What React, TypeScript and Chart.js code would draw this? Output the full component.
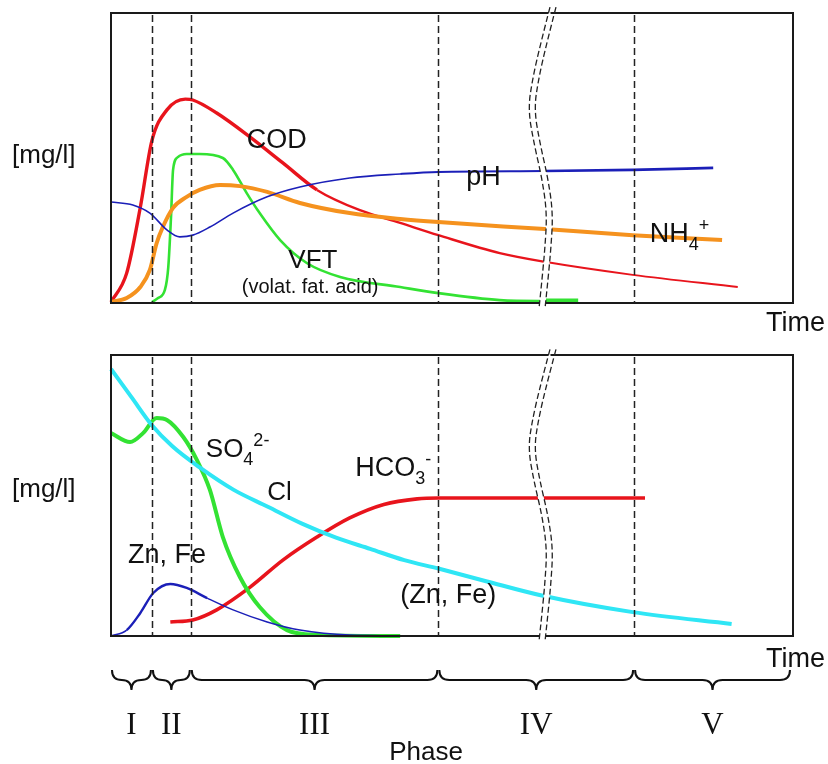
import React, { useEffect, useRef } from 'react';
import { Chart, registerables } from 'chart.js';
Chart.register(...registerables);

// ---- phases / time axis (abstract time units 0..100) ----
const phaseBounds = [0, 6, 11.7, 48, 76.7, 99.7];
const phaseLabels = ['I', 'II', 'III', 'IV', 'V'];
const dashedLines = [6, 11.7, 48, 76.7];
const breakX = 62.9;

// ---- top panel series ----
const codX = [0, 2.3, 4.3, 6, 8.2, 10.9, 12, 15.5, 20.4, 25.2, 30.2, 36.5, 42.4, 48, 57, 63.6, 76.5, 91.9];
const codY = [0.3, 10.3, 33, 56, 66.6, 70.3, 70, 65.5, 57.2, 48.3, 39, 32, 27.6, 23.4, 17.2, 14.2, 9.7, 5.5];

const vftX = [6, 6.9, 7.9, 8.4, 8.8, 9.1, 9.8, 11.1, 13, 16.4, 17.9, 19.9, 21.8, 24.8, 28.7, 33.6, 42.4, 48, 57, 62.9, 68.5];
const vftY = [0.3, 1.7, 4.5, 12.4, 29.7, 45.9, 50.3, 51.4, 51.4, 50, 45.9, 37.9, 31, 21.7, 13.8, 9, 5.5, 3.4, 1, 0.7, 0.7];

const nh4X = [0, 2.3, 4.3, 5.7, 6.7, 7.6, 9.1, 11.1, 13, 16, 18.9, 22.9, 27.7, 35, 42.4, 48, 63.6, 76.5, 89.6];
const nh4Y = [0.3, 1.7, 5.5, 11.4, 20.7, 26.2, 32.8, 36.6, 39, 40.7, 40.3, 38.3, 34.5, 31, 29, 27.9, 25.5, 23.4, 21.7];

const phX = [0, 3.2, 5.7, 8.2, 10.1, 12, 14.5, 17.9, 22.9, 27.7, 35, 42.4, 48, 63.6, 76.5, 88.3];
const phY = [34.8, 33.8, 31, 25.2, 22.8, 23.4, 26.2, 31, 36.6, 40, 43.1, 44.5, 45.2, 45.5, 45.9, 46.6];

// ---- bottom panel series ----
const clX = [0, 3, 6, 9, 13, 18, 23, 28, 33, 38, 43, 48, 55, 63, 76.5, 91];
const clY = [95, 85, 75, 67.5, 60, 52, 46, 40, 35, 31, 27, 24, 19.5, 14.5, 8.5, 4.3];

const so4X = [0, 2.8, 4.7, 6.7, 8.2, 10.6, 12.6, 14.5, 16.4, 18.9, 21.8, 25.8, 30.2, 42.4];
const so4Y = [72.2, 69, 72.2, 77.6, 76.9, 70.8, 62.6, 52, 35.2, 21, 10.3, 2.1, 0.4, 0];

const hco3X = [8.7, 12, 15.5, 20.4, 25.2, 30.2, 35, 40, 44.9, 48, 60, 78.3];
const hco3Y = [5, 5.7, 9.3, 17.4, 27, 35.2, 42, 46.8, 48.8, 49.1, 49.1, 49.1];

const znX = [0, 2.3, 4.3, 6.2, 8.7, 11.1, 14.1, 17.9, 22.9, 27.7, 35, 50];
const znY = [0, 2.1, 8.2, 15.3, 18.5, 17.1, 13.5, 9.3, 5, 2.1, 0.4, 0];

// break mark shape: [fraction of plot height, pixel x offset]
const breakShape: [number, number][] = [
  [-0.02, 10], [0.1, 1], [0.22, -7], [0.33, -12], [0.45, -6], [0.57, 2], [0.69, 7], [0.81, 5], [0.92, 2], [1.02, -1],
];

const RED = '#e8141c';
const GREEN = '#33e233';
const ORANGE = '#f5921e';
const BLUE = '#1b1fb8';
const CYAN = '#2fe6f5';
const SANS = '"Liberation Sans", Arial, sans-serif';
const SERIF = '"Liberation Serif", "Times New Roman", serif';

type Part = [string, 'n' | 'sub' | 'sup'];
type Label = { x: number; y: number; parts: Part[]; size: number; align?: 'left' | 'center' };

const topLabels: Label[] = [
  { x: 19.9, y: 53.4, parts: [['COD', 'n']], size: 27 },
  { x: 52.1, y: 40.7, parts: [['pH', 'n']], size: 27 },
  { x: 79.0, y: 21.0, parts: [['NH', 'n'], ['4', 'sub'], ['+', 'sup']], size: 27 },
  { x: 26.0, y: 12.1, parts: [['VFT', 'n']], size: 26 },
  { x: 29.2, y: 3.4, parts: [['(volat. fat. acid)', 'n']], size: 20, align: 'center' },
];
const bottomLabels: Label[] = [
  { x: 13.9, y: 63.7, parts: [['SO', 'n'], ['4', 'sub'], ['2-', 'sup']], size: 26 },
  { x: 22.9, y: 48.4, parts: [['Cl', 'n']], size: 26 },
  { x: 35.8, y: 56.9, parts: [['HCO', 'n'], ['3', 'sub'], ['-', 'sup']], size: 27 },
  { x: 2.5, y: 26, parts: [['Zn, Fe', 'n']], size: 27 },
  { x: 42.4, y: 11.7, parts: [['(Zn, Fe)', 'n']], size: 27 },
];

function drawRich(ctx: CanvasRenderingContext2D, x: number, y: number, parts: Part[], size: number, align = 'left') {
  const fontFor = (m: string) => `${m === 'n' ? size : Math.round(size * 0.68)}px ${SANS}`;
  let total = 0;
  for (const [t, m] of parts) { ctx.font = fontFor(m); total += ctx.measureText(t).width; }
  let cx = align === 'center' ? x - total / 2 : x;
  ctx.textAlign = 'left';
  ctx.textBaseline = 'alphabetic';
  for (const [t, m] of parts) {
    ctx.font = fontFor(m);
    const dy = m === 'sub' ? size * 0.3 : m === 'sup' ? -size * 0.42 : 0;
    ctx.fillText(t, cx, y + dy);
    cx += ctx.measureText(t).width;
  }
}

function smoothPath(ctx: CanvasRenderingContext2D, pts: [number, number][]) {
  ctx.moveTo(pts[0][0], pts[0][1]);
  for (let i = 1; i < pts.length - 1; i++) {
    const mx = (pts[i][0] + pts[i + 1][0]) / 2;
    const my = (pts[i][1] + pts[i + 1][1]) / 2;
    ctx.quadraticCurveTo(pts[i][0], pts[i][1], mx, my);
  }
  const l = pts[pts.length - 1];
  ctx.lineTo(l[0], l[1]);
}

function makeDecor(labels: Label[], yLabelBase: number, timeBase: number, withPhases: boolean) {
  return {
    id: 'decor',
    afterDatasetsDraw(chart: any) {
      const { ctx, chartArea: a, scales } = chart;
      const xs = scales.x, ys = scales.y;
      ctx.save();
      // frame
      ctx.strokeStyle = '#1a1a1a';
      ctx.lineWidth = 2;
      ctx.setLineDash([]);
      ctx.strokeRect(a.left, a.top, a.right - a.left, a.bottom - a.top);
      // phase separators
      ctx.lineWidth = 1.5;
      ctx.strokeStyle = '#222';
      ctx.setLineDash([7, 4]);
      for (const v of dashedLines) {
        const px = Math.round(xs.getPixelForValue(v)) + 0.5;
        ctx.beginPath();
        ctx.moveTo(px, a.top + 2);
        ctx.lineTo(px, a.bottom);
        ctx.stroke();
      }
      // axis break
      const xc = xs.getPixelForValue(breakX);
      const h = a.bottom - a.top;
      const left: [number, number][] = breakShape.map(([t, dx]) => [xc + dx, a.top + t * h]);
      const right: [number, number][] = left.map(([x, y]) => [x + 6, y]);
      ctx.setLineDash([]);
      ctx.fillStyle = '#fff';
      ctx.beginPath();
      smoothPath(ctx, left);
      const rr = [...right].reverse();
      ctx.lineTo(rr[0][0], rr[0][1]);
      for (let i = 1; i < rr.length - 1; i++) {
        const mx = (rr[i][0] + rr[i + 1][0]) / 2;
        const my = (rr[i][1] + rr[i + 1][1]) / 2;
        ctx.quadraticCurveTo(rr[i][0], rr[i][1], mx, my);
      }
      ctx.closePath();
      ctx.fill();
      ctx.setLineDash([6, 3]);
      ctx.lineWidth = 1.3;
      ctx.strokeStyle = '#222';
      for (const path of [left, right]) {
        ctx.beginPath();
        smoothPath(ctx, path);
        ctx.stroke();
      }
      ctx.setLineDash([]);
      // labels inside plot
      ctx.fillStyle = '#111';
      for (const l of labels) {
        drawRich(ctx, xs.getPixelForValue(l.x), ys.getPixelForValue(l.y), l.parts, l.size, l.align || 'left');
      }
      // axis titles
      ctx.font = `26px ${SANS}`;
      ctx.textAlign = 'left';
      ctx.fillText('[mg/l]', 12, yLabelBase);
      ctx.textAlign = 'right';
      ctx.font = `27px ${SANS}`;
      ctx.fillText('Time', 825, timeBase);
      if (withPhases) {
        const y0 = a.bottom + 34, hh = 20;
        const yMid = y0 + hh / 2, yTip = y0 + hh;
        ctx.strokeStyle = '#111';
        ctx.lineWidth = 2;
        for (let i = 0; i < phaseLabels.length; i++) {
          const x1 = xs.getPixelForValue(phaseBounds[i]) + 1;
          const x2 = xs.getPixelForValue(phaseBounds[i + 1]) - 1;
          const xm = (x1 + x2) / 2;
          const r = Math.min(10, (x2 - x1) / 4);
          ctx.beginPath();
          ctx.moveTo(x1, y0);
          ctx.quadraticCurveTo(x1, yMid, x1 + r, yMid);
          ctx.lineTo(xm - r, yMid);
          ctx.quadraticCurveTo(xm, yMid, xm, yTip);
          ctx.quadraticCurveTo(xm, yMid, xm + r, yMid);
          ctx.lineTo(x2 - r, yMid);
          ctx.quadraticCurveTo(x2, yMid, x2, y0);
          ctx.stroke();
          ctx.font = `31px ${SERIF}`;
          ctx.textAlign = 'center';
          ctx.fillText(phaseLabels[i], xm, a.bottom + 98);
        }
        ctx.font = `26px ${SANS}`;
        ctx.textAlign = 'center';
        ctx.fillText('Phase', 426, a.bottom + 124);
      }
      ctx.restore();
    },
  };
}

function ds(xs: number[], ys: number[], color: string, width: number, seg?: (x: number) => number) {
  return {
    data: xs.map((x, i) => ({ x, y: ys[i] })),
    borderColor: color,
    borderWidth: width,
    pointRadius: 0,
    fill: false,
    cubicInterpolationMode: 'monotone',
    borderCapStyle: 'butt',
    clip: 4,
    segment: seg ? { borderWidth: (c: any) => seg(c.p0.parsed.x) } : undefined,
  };
}

function baseOptions(padding: any) {
  return {
    responsive: false,
    animation: false,
    layout: { padding },
    plugins: { legend: { display: false }, tooltip: { enabled: false } },
    scales: {
      x: { type: 'linear', min: 0, max: 100, display: false },
      y: { type: 'linear', min: 0, max: 100, display: false },
    },
  };
}

export default function App() {
  const topRef = useRef<HTMLCanvasElement>(null);
  const botRef = useRef<HTMLCanvasElement>(null);

  useEffect(() => {
    const top = new Chart(topRef.current as HTMLCanvasElement, {
      type: 'line',
      data: {
        datasets: [
          ds(phX, phY, BLUE, 1.6, (x) => (x >= breakX ? 2.6 : x > 35 ? 2 : 1.6)),
          ds(nh4X, nh4Y, ORANGE, 4),
          ds(vftX, vftY, GREEN, 2.6, (x) => (x >= breakX ? 5 : 2.6)),
          ds(codX, codY, RED, 3.2, (x) => (x >= breakX ? 2 : x > 30 ? 2.4 : 3.4)),
        ] as any,
      },
      options: baseOptions({ left: 111, top: 13, right: 35, bottom: 37 }) as any,
      plugins: [makeDecor(topLabels, 163, 331, false)],
    });
    const bot = new Chart(botRef.current as HTMLCanvasElement, {
      type: 'line',
      data: {
        datasets: [
          ds(znX, znY, BLUE, 1.6, (x) => (x > 2 && x < 12 ? 2.4 : 1.5)),
          ds(clX, clY, CYAN, 4),
          ds(so4X, so4Y, GREEN, 4),
          ds(hco3X, hco3Y, RED, 3.6),
        ] as any,
      },
      options: baseOptions({ left: 111, top: 15, right: 35, bottom: 128 }) as any,
      plugins: [makeDecor(bottomLabels, 157, 327, true)],
    });
    return () => {
      top.destroy();
      bot.destroy();
    };
  }, []);

  return (
    <div style={{ position: 'absolute', left: 0, top: 0, width: 828, height: 764, background: '#fff' }}>
      <canvas ref={topRef} width={828} height={340} style={{ position: 'absolute', left: 0, top: 0, display: 'block' }} />
      <canvas ref={botRef} width={828} height={424} style={{ position: 'absolute', left: 0, top: 340, display: 'block' }} />
    </div>
  );
}
